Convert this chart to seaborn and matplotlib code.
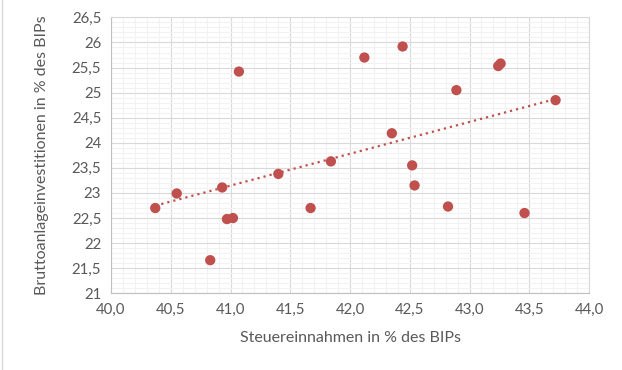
import numpy as np
import pandas as pd
import matplotlib
matplotlib.use("Agg")
import matplotlib.pyplot as plt
import seaborn as sns
from matplotlib.ticker import MultipleLocator, FuncFormatter
from matplotlib.lines import Line2D

# Werte
steuern = [40.37, 40.55, 40.93, 40.97, 41.02, 40.83, 41.67, 41.07, 41.40, 42.12, 42.44,
           43.26, 43.24, 42.89, 43.72, 42.35, 41.84, 42.52, 42.54, 42.82, 43.46]
investitionen = [22.70, 22.99, 23.11, 22.48, 22.50, 21.66, 22.70, 25.42, 23.38, 25.70, 25.92,
                 25.58, 25.53, 25.05, 24.85, 24.19, 23.63, 23.55, 23.15, 22.73, 22.60]

x_label = "Steuereinnahmen in % des BIPs"
y_label = "Bruttoanlageinvestitionen in % des BIPs"

df = pd.DataFrame({"x": steuern, "y": investitionen})

sns.set_style("white")
plt.rcParams["font.family"] = ["Lato", "DejaVu Sans"]

rot = "#C0504D"
text_col = "#595959"

fig = plt.figure(figsize=(6.22, 3.70), dpi=100)
ax = fig.add_axes([0.1785, 0.2073, 0.947 - 0.1785, 0.953 - 0.2073])

# Lineare Trendlinie (aus den Daten berechnet)
m, b = np.polyfit(df["x"], df["y"], 1)
trend = pd.DataFrame({"x": [df["x"].min(), df["x"].max()]})
trend["y"] = m * trend["x"] + b
sns.lineplot(data=trend, x="x", y="y", ax=ax, color=rot, lw=1.6,
             linestyle=(0, (1, 1.8)), zorder=3)

sns.scatterplot(data=df, x="x", y="y", ax=ax, color=rot, s=55,
                edgecolor="none", zorder=4)

ax.set_xlim(40, 44)
ax.set_ylim(21, 26.5)
ax.xaxis.set_major_locator(MultipleLocator(0.5))
ax.xaxis.set_minor_locator(MultipleLocator(0.1))
ax.yaxis.set_major_locator(MultipleLocator(0.5))
ax.yaxis.set_minor_locator(MultipleLocator(0.1))

ax.xaxis.set_major_formatter(FuncFormatter(lambda v, p: f"{v:.1f}".replace(".", ",")))
ax.yaxis.set_major_formatter(FuncFormatter(
    lambda v, p: (f"{v:.0f}" if abs(v - round(v)) < 1e-9 else f"{v:.1f}").replace(".", ",")))

ax.grid(which="minor", color="#F2F2F2", lw=0.8, zorder=0)
ax.grid(which="major", color="#D9D9D9", lw=0.8, zorder=1)
ax.set_axisbelow(True)

for s in ax.spines.values():
    s.set_color("#D9D9D9")
    s.set_linewidth(0.8)
ax.spines["bottom"].set_color("#BFBFBF")
ax.spines["left"].set_color("#BFBFBF")

ax.tick_params(which="major", length=4, width=0.8, color="#BFBFBF",
               labelsize=10.8, labelcolor=text_col, pad=3)
ax.tick_params(which="minor", length=0)

ax.set_xlabel(x_label, fontsize=11.5, color=text_col, labelpad=10)
ax.set_ylabel(y_label, fontsize=11.5, color=text_col, labelpad=16)

# Rahmen links wie im Original
fig.add_artist(Line2D([0.003, 0.003], [0, 1], transform=fig.transFigure,
                      color="#D9D9D9", lw=1))

fig.savefig("out.png", dpi=100)
